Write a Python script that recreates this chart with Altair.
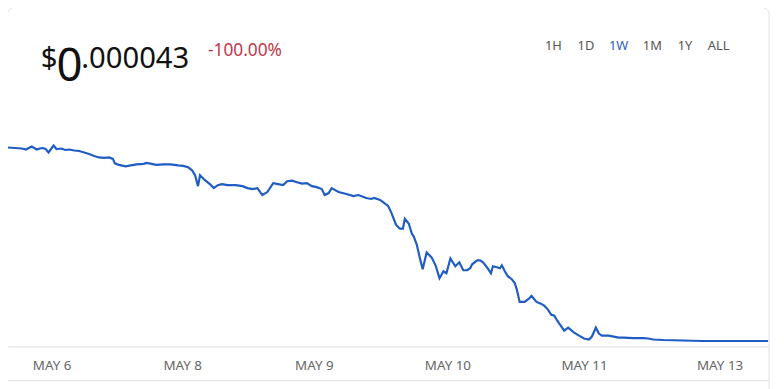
import altair as alt
import pandas as pd

# time index (1 unit = 1/192 of the week shown) and price series
t = [0, 1.75, 3.5, 4.5, 6, 7.25, 8, 8.75, 9.5, 10.25, 11.5, 12.25, 13.5, 14.5, 15.5,
     16.75, 18, 19.25, 20.5, 21.75, 23, 24.25, 25.5, 26.5, 27, 28, 29.75, 31, 32.5,
     34.25, 35, 36.25, 37.5, 39.25, 41, 43, 44.25, 45.5, 46.5, 47.25, 48, 48.5, 49.75,
     51, 52, 53, 54, 55.5, 57.5, 59.25, 60.5, 61.75, 63, 64.25, 65.5, 67, 68.25, 69.5,
     70.5, 71.75, 73, 74.25, 75.5, 76.75, 78, 79.25, 80, 81, 81.75, 83.5, 85.5, 87.25,
     88.5, 90.5, 91.75, 92.5, 94, 95, 96, 96.75, 98, 99, 99.75, 100.25, 101.25, 102,
     102.5, 103.25, 104, 104.75, 105.75, 107, 108, 109, 110, 110.75, 111.75, 113, 114,
     115, 116, 116.75, 117.25, 118.5, 119.25, 120, 121, 122, 122.5, 123.5, 124.25,
     124.75, 125.5, 126.25, 127.25, 128, 128.5, 129.25, 130.5, 131.5, 132.25, 133.5,
     134.75, 135.5, 136.25, 137.25, 138, 138.75, 140.5, 141.5, 143, 144.25, 145.5,
     146.75, 147.5, 148.5, 149.25, 150, 151.75, 153, 154.25, 155.5, 158, 160.5, 161.75,
     163, 165.5, 170.5, 175.5, 183, 192]
price = [78.2, 78.0, 77.8, 77.4, 78.6, 77.4, 77.8, 78.0, 77.6, 76.2, 79.0, 77.6, 77.8,
         77.2, 77.4, 77.0, 76.8, 76.2, 75.6, 74.8, 74.2, 74.0, 74.2, 73.6, 71.8, 71.2,
         70.6, 71.0, 71.4, 71.6, 72.0, 71.6, 71.2, 71.4, 71.4, 71.0, 70.8, 70.2, 69.0,
         67.0, 62.6, 67.0, 65.0, 63.4, 61.8, 63.0, 63.4, 63.0, 63.0, 62.6, 61.8, 61.4,
         61.8, 59.0, 60.2, 63.8, 63.4, 63.0, 64.6, 64.8, 64.2, 63.6, 63.8, 62.6, 62.2,
         61.4, 59.0, 59.8, 61.8, 60.2, 59.4, 58.6, 59.0, 57.8, 57.4, 57.8, 57.0, 55.8,
         54.6, 52.2, 47.0, 45.4, 45.4, 49.4, 47.4, 43.4, 42.2, 39.0, 33.8, 29.0, 35.8,
         33.8, 30.6, 25.4, 28.2, 27.4, 33.4, 30.2, 31.8, 28.6, 28.6, 29.4, 31.0, 32.6,
         32.6, 31.8, 29.8, 27.4, 30.2, 29.8, 29.4, 30.6, 28.2, 26.2, 25.0, 23.4, 21.0,
         15.8, 15.8, 17.0, 18.2, 15.8, 15.0, 14.2, 13.0, 10.6, 10.2, 8.2, 4.2, 5.4, 3.4,
         2.2, 1.0, 0.6, 1.8, 5.4, 3.0, 2.2, 2.2, 1.8, 1.4, 1.4, 1.2, 1.2, 1.0, 0.6, 0.4,
         0.2, 0.0, 0.0, 0.0]

tick_values = [11, 44, 77.25, 111, 145.5, 179.75]
tick_labels = ["MAY 6", "MAY 8", "MAY 9", "MAY 10", "MAY 11", "MAY 13"]

periods = ["1H", "1D", "1W", "1M", "1Y", "ALL"]
period_x = [551, 584, 617, 651, 684, 718]
active_period = "1W"

price_int = "0"
price_frac = ".000043"
change = "-100.00%"

FONT = "Noto Sans"
df = pd.DataFrame({"t": t, "price": price})

label_expr = "[" + ",".join("'%s'" % s for s in tick_labels) + "][indexof([" + \
    ",".join(str(v) for v in tick_values) + "], datum.value)]"

line = alt.Chart(df).mark_line(color="#1f5cc4", strokeWidth=2.2).encode(
    x=alt.X("t:Q", scale=alt.Scale(domain=[0, 192], nice=False, zero=False),
            axis=alt.Axis(values=tick_values, labelExpr=label_expr, title=None,
                          ticks=False, grid=False, domainColor="#dedede",
                          labelColor="#666666", labelFont=FONT, labelFontSize=13.5,
                          labelPadding=12, labelFlush=False, labelOverlap=False)),
    y=alt.Y("price:Q", scale=alt.Scale(domain=[-2.2, 133.8], nice=False, zero=False),
            axis=None),
)

one = alt.Data(values=[{}])

def txt(text, x, y, size, color="#111111", align="left"):
    return alt.Chart(one).mark_text(text=text, font=FONT, fontSize=size, color=color,
                                    align=align, baseline="alphabetic").encode(
        x=alt.value(x), y=alt.value(y))

card = alt.Chart(one).mark_rect(fill=None, stroke="#e2e2e2", strokeWidth=1,
                                cornerRadius=7).encode(
    x=alt.value(-0.5), x2=alt.value(769), y=alt.value(-2.5), y2=alt.value(440))
sep = alt.Chart(one).mark_rule(color="#e2e2e2").encode(
    x=alt.value(-1), x2=alt.value(769), y=alt.value(374.5))

layers = [card, sep, line,
          txt("$", 33, 59, 29.5),
          txt(price_int, 49, 72, 46),
          txt(price_frac, 74, 59, 29.5),
          txt(change, 202, 47, 17.5, color="#c0394b")]
for p, px in zip(periods, period_x):
    layers.append(txt(p, px, 40, 13,
                      color="#2d5cc8" if p == active_period else "#555555",
                      align="center"))

chart = alt.layer(*layers).properties(
    width=768, height=340,
    autosize=alt.AutoSizeParams(type="none"),
    padding={"left": 0, "top": 0, "right": 8, "bottom": 41},
).configure_view(stroke=None)

chart.save("out.html", embed_options={"renderer": "svg", "actions": False})
